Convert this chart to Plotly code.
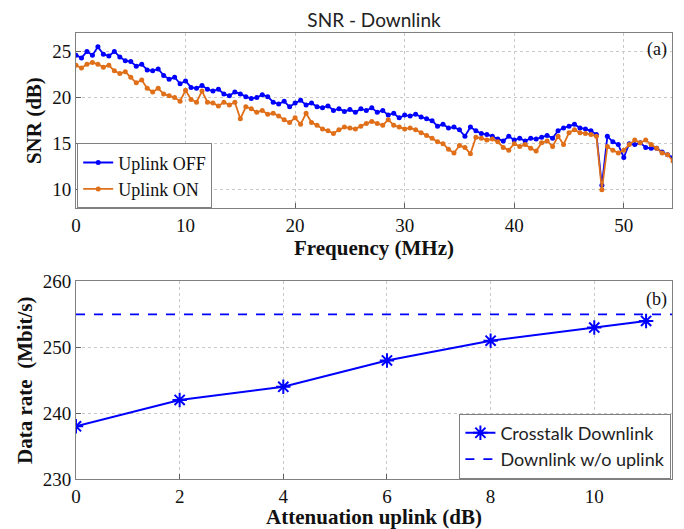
import plotly.graph_objects as go

# ---- SNR vs frequency (downlink), 0.5 MHz steps ----
freq_mhz = [i * 0.5 for i in range(110)]

snr_uplink_off = [
    24.6, 24.3, 25.0, 24.6, 25.5, 24.7, 24.5, 25.0, 24.4, 24.0,
    23.9, 23.4, 23.6, 23.0, 22.9, 23.1, 22.4, 22.0, 22.2, 21.5,
    21.8, 21.1, 21.0, 21.3, 20.9, 20.7, 20.9, 20.4, 20.2, 20.6,
    20.4, 20.1, 19.9, 20.0, 20.3, 20.1, 19.5, 19.3, 19.6, 19.0,
    19.4, 19.7, 19.2, 19.4, 19.0, 18.9, 19.1, 18.6, 18.8, 18.5,
    18.7, 18.4, 18.8, 18.6, 18.9, 18.4, 18.6, 18.1, 18.3, 17.8,
    18.1, 18.0, 18.2, 17.9, 17.7, 17.5, 16.9, 17.1, 16.7, 16.8,
    16.5, 15.8, 16.8, 16.4, 16.1, 16.0, 15.8, 15.5, 15.3, 15.8,
    15.4, 15.6, 15.3, 15.6, 15.5, 15.7, 15.9, 15.6, 16.4, 16.7,
    16.9, 17.1, 16.7, 16.6, 16.4, 16.0, 10.5, 15.8, 15.2, 14.9,
    13.5, 15.0, 14.9, 15.1, 14.6, 14.5, 14.5, 14.1, 13.8, 13.5,
]

snr_uplink_on = [
    23.5, 23.2, 23.6, 23.8, 23.6, 23.3, 23.5, 22.9, 22.6, 22.8,
    22.2, 21.6, 21.9, 21.0, 20.6, 21.0, 20.4, 20.2, 20.0, 19.6,
    20.8, 19.8, 19.5, 20.7, 19.5, 19.4, 19.1, 19.5, 19.2, 19.5,
    17.7, 19.0, 18.8, 18.4, 18.6, 18.2, 18.3, 18.0, 17.6, 17.3,
    17.8, 17.1, 18.3, 17.3, 17.0, 16.6, 16.4, 16.1, 16.5, 16.8,
    16.7, 16.6, 16.9, 17.2, 17.4, 17.2, 17.0, 17.6, 17.0, 16.8,
    16.6, 16.7, 16.5, 16.2, 15.9, 15.6, 15.2, 15.0, 14.4, 14.0,
    14.8, 14.6, 13.9, 15.7, 15.6, 15.4, 15.5, 15.2, 14.6, 14.3,
    15.0, 14.7, 14.9, 14.5, 14.2, 15.1, 15.3, 14.7, 15.8, 14.9,
    16.2, 16.5, 16.2, 16.1, 16.0, 15.8, 10.0, 14.7, 14.3, 14.0,
    14.3, 14.9, 15.4, 15.1, 15.4, 14.9, 14.5, 14.0, 13.8, 13.1,
]

# ---- Downlink data rate vs uplink attenuation ----
attenuation_db = [0, 2, 4, 6, 8, 10, 11]
data_rate_crosstalk = [238, 242, 244, 248, 251, 253, 254]
data_rate_no_uplink = 255
attenuation_span = [0, 11.5]

BLUE = "#0000FF"
ORANGE = "#E06F1A"
SERIF = "Liberation Serif"
SANS = "Lato"
INK = "#111111"

fig = go.Figure()

fig.add_trace(go.Scatter(
    x=freq_mhz, y=snr_uplink_off, name="Uplink OFF",
    mode="lines+markers", line=dict(color=BLUE, width=1.8),
    marker=dict(color=BLUE, size=5), xaxis="x", yaxis="y", legend="legend",
))
fig.add_trace(go.Scatter(
    x=freq_mhz, y=snr_uplink_on, name="Uplink ON",
    mode="lines+markers", line=dict(color=ORANGE, width=1.8),
    marker=dict(color=ORANGE, size=5), xaxis="x", yaxis="y", legend="legend",
))

fig.add_trace(go.Scatter(
    x=attenuation_db, y=data_rate_crosstalk, name="Crosstalk Downlink",
    mode="lines+markers", line=dict(color=BLUE, width=2),
    marker=dict(color=BLUE, size=12, symbol="asterisk-open",
                line=dict(color=BLUE, width=2)),
    xaxis="x2", yaxis="y2", legend="legend2",
))
fig.add_trace(go.Scatter(
    x=attenuation_span, y=[data_rate_no_uplink] * len(attenuation_span),
    name="Downlink w/o uplink", mode="lines",
    line=dict(color=BLUE, width=1.6, dash="dash"),
    xaxis="x2", yaxis="y2", legend="legend2",
))

axis_common = dict(
    showline=True, linecolor="#808080", linewidth=1, mirror=True,
    ticks="inside", ticklen=5, tickcolor="#606060",
    showgrid=True, gridcolor="#C8C8C8", griddash="dot", gridwidth=1,
    zeroline=False, automargin=False,
    tickfont=dict(family=SERIF, size=19, color=INK),
)
title_font = dict(family=SERIF, size=21, color=INK)

fig.update_layout(
    width=684, height=529,
    margin=dict(l=76, r=12, t=33, b=50),
    paper_bgcolor="white", plot_bgcolor="white",
    title=dict(text="SNR - Downlink", x=0.5, xanchor="center", xref="paper",
               y=1 - 20 / 529, yref="container", yanchor="middle",
               automargin=False,
               font=dict(family=SANS, size=19, color="#222222")),
    xaxis=dict(axis_common, domain=[0, 1], range=[0, 54.4], dtick=10,
               anchor="y",
               title=dict(text="<b>Frequency (MHz)</b>", font=title_font,
                          standoff=0)),
    yaxis=dict(axis_common, domain=[0.607, 1], range=[8, 27], dtick=5,
               anchor="x",
               title=dict(text="<b>SNR (dB)</b>", font=title_font,
                          standoff=4)),
    xaxis2=dict(axis_common, domain=[0, 1], range=[0, 11.5], dtick=2,
                anchor="y2",
                title=dict(text="<b>Attenuation uplink (dB)</b>",
                           font=title_font, standoff=0)),
    yaxis2=dict(axis_common, domain=[0, 0.443], range=[230, 260], dtick=10,
                anchor="x2",
                title=dict(text="<b>Data rate  (Mbit/s)</b>", font=title_font,
                           standoff=4)),
    legend=dict(x=0.002, y=0.607, xanchor="left", yanchor="bottom",
                bgcolor="white", bordercolor="#808080", borderwidth=1,
                font=dict(family=SERIF, size=18, color=INK),
                tracegroupgap=0, itemwidth=30),
    legend2=dict(x=0.999, y=0.001, xanchor="right", yanchor="bottom",
                 bgcolor="white", bordercolor="#808080", borderwidth=1,
                 font=dict(family=SANS, size=18, color="#222222"),
                 tracegroupgap=0, itemwidth=30),
    showlegend=True,
    annotations=[
        dict(text="(a)", xref="x domain", yref="y domain", x=0.995, y=0.98,
             xanchor="right", yanchor="top", showarrow=False,
             font=dict(family=SERIF, size=18, color=INK)),
        dict(text="(b)", xref="x2 domain", yref="y2 domain", x=0.995, y=0.97,
             xanchor="right", yanchor="top", showarrow=False,
             font=dict(family=SERIF, size=18, color=INK)),
    ],
)

fig.write_html("out.html")
